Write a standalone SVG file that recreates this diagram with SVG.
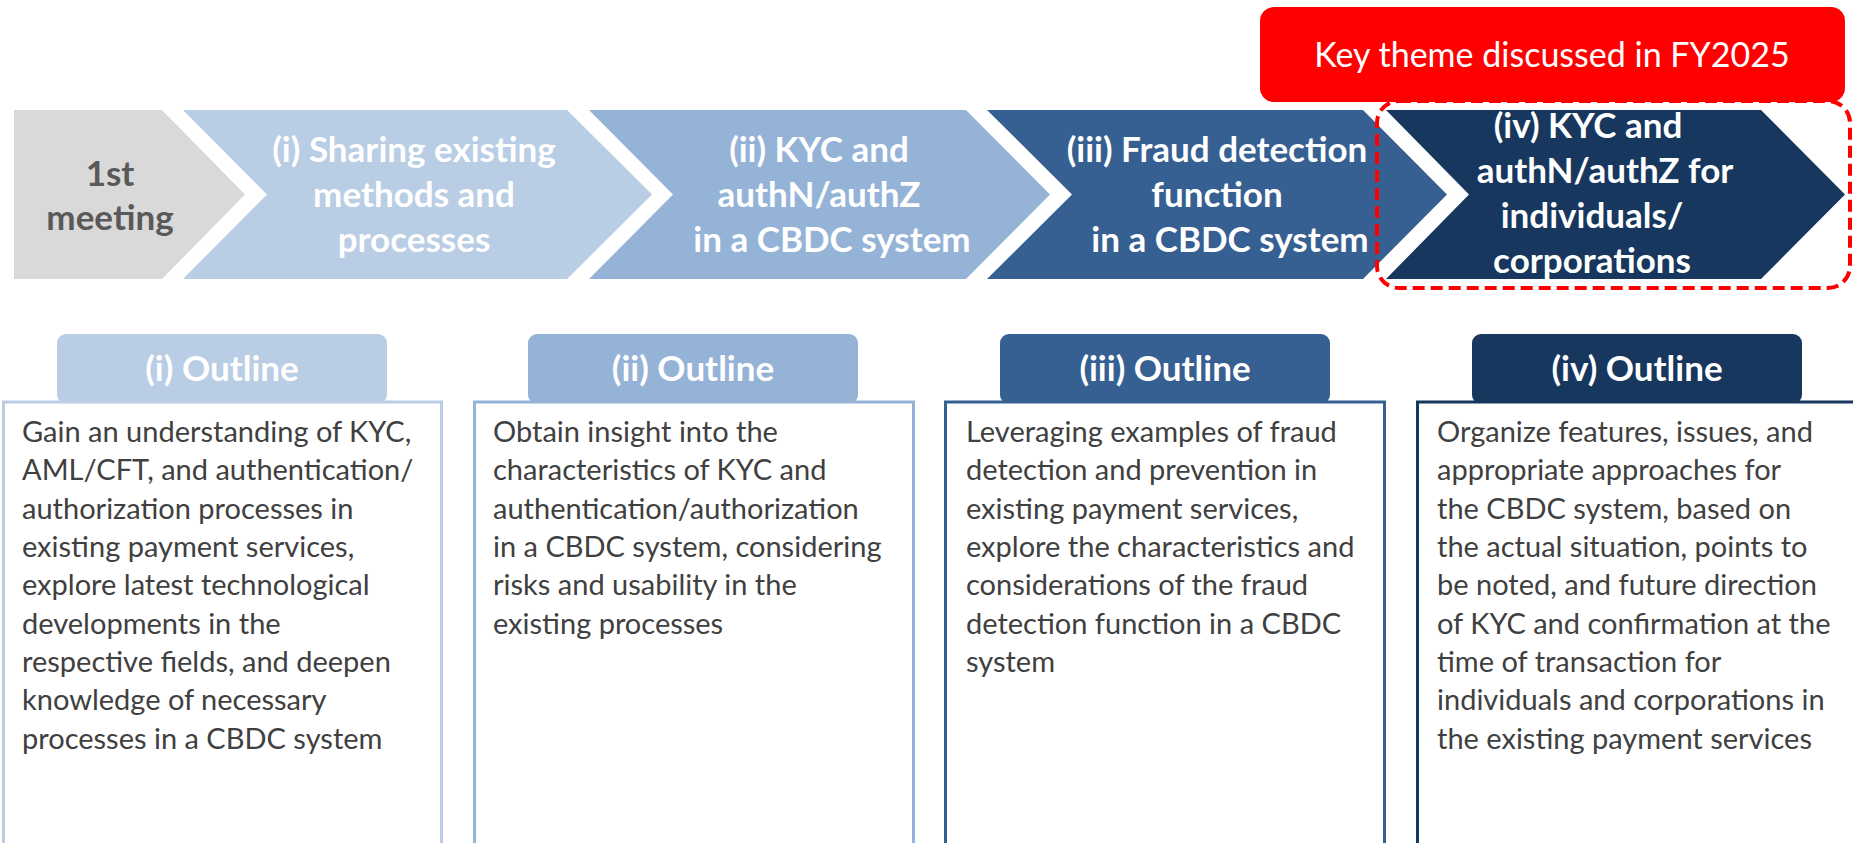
<svg xmlns="http://www.w3.org/2000/svg" width="1853" height="843" viewBox="0 0 1853 843">
<style>
.t{font-family:Lato,"Open Sans",sans-serif}
.hb{font-family:Lato,"Open Sans",sans-serif;font-weight:bold;font-size:35px;fill:#ffffff;text-anchor:middle}
.gt{font-family:Lato,"Open Sans",sans-serif;font-weight:bold;font-size:35px;fill:#595959;text-anchor:middle}
.body{font-family:Lato,"Open Sans",sans-serif;font-size:29px;fill:#404040}
.box{fill:#ffffff;stroke-width:3}
</style>
<rect width="1853" height="843" fill="#ffffff"/>
<g id="step-1st">
<polygon points="14,110 162,110 245,194.5 162,279 14,279" fill="#d9d9d9"/>
<text class="gt" x="110" y="186">1st</text>
<text class="gt" x="110" y="230">meeting</text>
</g>
<g id="step-i">
<polygon points="183,110 567,110 652,194.5 567,279 183,279 267,194.5" fill="#b9cde5"/>
<text class="hb" x="414" y="162">(i) Sharing existing</text>
<text class="hb" x="414" y="207">methods and</text>
<text class="hb" x="414" y="252">processes</text>
</g>
<g id="step-ii">
<polygon points="589,110 966,110 1050,194.5 966,279 589,279 673,194.5" fill="#95b3d7"/>
<text class="hb" x="819" y="162">(ii) KYC and</text>
<text class="hb" x="819" y="207">authN/authZ</text>
<text class="hb" x="832" y="252">in a CBDC system</text>
</g>
<g id="step-iii">
<polygon points="987,110 1363,110 1447,194.5 1363,279 987,279 1072,194.5" fill="#376092"/>
<text class="hb" x="1217" y="162">(iii) Fraud detection</text>
<text class="hb" x="1217" y="207">function</text>
<text class="hb" x="1230" y="252">in a CBDC system</text>
</g>
<g id="step-iv">
<polygon points="1386,110 1761,110 1845,194.5 1761,279 1386,279 1469,194.5" fill="#17375e"/>
<text class="hb" x="1588" y="138">(iv) KYC and</text>
<text class="hb" x="1605" y="183">authN/authZ for</text>
<text class="hb" x="1592" y="228">individuals/</text>
<text class="hb" x="1592" y="273">corporations</text>
</g>
<g id="key-theme-highlight">
<rect x="1377" y="101" width="473" height="187" rx="22" fill="none" stroke="#ff0000" stroke-width="4" stroke-dasharray="12 6"/>
<rect x="1260" y="7" width="585" height="95" rx="14" fill="#ff0000"/>
<text class="t" x="1552" y="67" font-size="34" fill="#ffffff" text-anchor="middle">Key theme discussed in FY2025</text>
</g>
<g id="outline-i">
<rect x="57" y="334" width="330" height="70" rx="9" fill="#b9cde5"/>
<rect class="box" x="3.5" y="402" width="438" height="500" stroke="#b9cde5"/>
<text class="hb" x="222" y="381">(i) Outline</text>
<text class="body"><tspan x="22" y="442">Gain an understanding of KYC,</tspan><tspan x="22" y="480.3">AML/CFT, and authentication/</tspan><tspan x="22" y="518.7">authorization processes in</tspan><tspan x="22" y="557">existing payment services,</tspan><tspan x="22" y="595.3">explore latest technological</tspan><tspan x="22" y="633.7">developments in the</tspan><tspan x="22" y="672">respective fields, and deepen</tspan><tspan x="22" y="710.3">knowledge of necessary</tspan><tspan x="22" y="748.7">processes in a CBDC system</tspan></text>
</g>
<g id="outline-ii">
<rect x="528" y="334" width="330" height="70" rx="9" fill="#95b3d7"/>
<rect class="box" x="474.5" y="402" width="439" height="500" stroke="#95b3d7"/>
<text class="hb" x="693" y="381">(ii) Outline</text>
<text class="body"><tspan x="493" y="442">Obtain insight into the</tspan><tspan x="493" y="480.3">characteristics of KYC and</tspan><tspan x="493" y="518.7">authentication/authorization</tspan><tspan x="493" y="557">in a CBDC system, considering</tspan><tspan x="493" y="595.3">risks and usability in the</tspan><tspan x="493" y="633.7">existing processes</tspan></text>
</g>
<g id="outline-iii">
<rect x="1000" y="334" width="330" height="70" rx="9" fill="#376092"/>
<rect class="box" x="945.5" y="402" width="439" height="500" stroke="#376092"/>
<text class="hb" x="1165" y="381">(iii) Outline</text>
<text class="body"><tspan x="966" y="442">Leveraging examples of fraud</tspan><tspan x="966" y="480.3">detection and prevention in</tspan><tspan x="966" y="518.7">existing payment services,</tspan><tspan x="966" y="557">explore the characteristics and</tspan><tspan x="966" y="595.3">considerations of the fraud</tspan><tspan x="966" y="633.7">detection function in a CBDC</tspan><tspan x="966" y="672">system</tspan></text>
</g>
<g id="outline-iv">
<rect x="1472" y="334" width="330" height="70" rx="9" fill="#17375e"/>
<rect class="box" x="1417.5" y="402" width="439" height="500" stroke="#17375e"/>
<text class="hb" x="1637" y="381">(iv) Outline</text>
<text class="body"><tspan x="1437" y="442">Organize features, issues, and</tspan><tspan x="1437" y="480.3">appropriate approaches for</tspan><tspan x="1437" y="518.7">the CBDC system, based on</tspan><tspan x="1437" y="557">the actual situation, points to</tspan><tspan x="1437" y="595.3">be noted, and future direction</tspan><tspan x="1437" y="633.7">of KYC and confirmation at the</tspan><tspan x="1437" y="672">time of transaction for</tspan><tspan x="1437" y="710.3">individuals and corporations in</tspan><tspan x="1437" y="748.7">the existing payment services</tspan></text>
</g>
<g id="connectors"></g>
</svg>
